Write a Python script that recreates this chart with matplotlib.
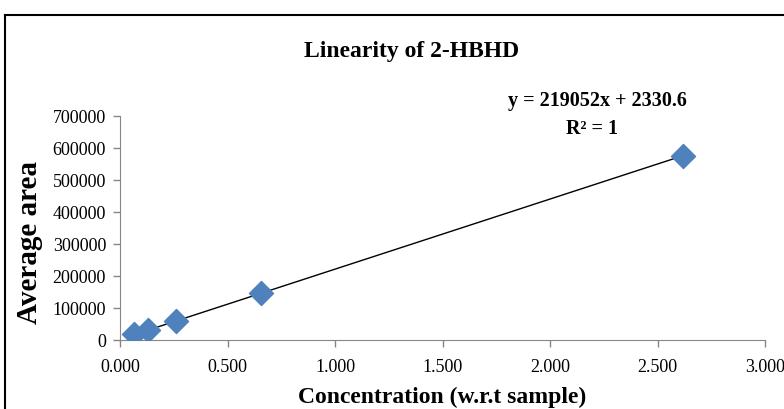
import numpy as np
import matplotlib.pyplot as plt
from matplotlib.lines import Line2D

# calibration data
concentration = [0.066, 0.131, 0.262, 0.655, 2.620]
avg_area = [17500, 31200, 59500, 146800, 576200]

# trendline reported on the chart
slope = 219052
intercept = 2330.6
r_squared = 1

x_ticks = [0.0, 0.5, 1.0, 1.5, 2.0, 2.5, 3.0]
y_ticks = [0, 100000, 200000, 300000, 400000, 500000, 600000, 700000]

plt.rcParams['font.family'] = ['Liberation Serif', 'DejaVu Serif']

fig = plt.figure(figsize=(7.84, 4.10), dpi=100)
ax = fig.add_axes([120/784, 1 - 341/410, 645/784, 224/410])

ax.scatter(concentration, avg_area, marker='D', s=150, color='#4F81BD',
           edgecolors='#4F81BD', zorder=3)
xf = np.array([min(concentration), max(concentration)])
ax.plot(xf, slope*xf + intercept, color='black', lw=1, zorder=2)

ax.set_xlim(0, 3)
ax.set_ylim(0, 700000)
ax.set_xticks(x_ticks)
ax.set_xticklabels(["%.3f" % t for t in x_ticks])
ax.set_yticks(y_ticks)
ax.set_yticklabels([str(t) for t in y_ticks])
ax.tick_params(labelsize=13, direction='out', length=5, color='#868686', width=1)
ax.tick_params(axis='x', pad=8)
ax.tick_params(axis='y', pad=5)
for s in ['top', 'right']:
    ax.spines[s].set_visible(False)
for s in ['left', 'bottom']:
    ax.spines[s].set_color('#868686')

ax.set_xlabel("Concentration (w.r.t sample)", fontsize=17, fontweight='bold', labelpad=8)
ax.set_ylabel("Average area", fontsize=21, fontweight='bold', va='center')
ax.yaxis.set_label_coords(-0.141, 0.44)

fig.text(412/784, 1 - 52/410, "Linearity of 2-HBHD", ha='center', va='center',
         fontsize=17, fontweight='bold')
fig.text(597/784, 1 - 101/410, "y = %dx + %.1f" % (slope, intercept),
         ha='center', va='center', fontsize=14.5, fontweight='bold')
fig.text(592/784, 1 - 129/410, "R² = %d" % r_squared,
         ha='center', va='center', fontsize=14.5, fontweight='bold')

# outer chart frame
fig.add_artist(Line2D([5/784, 5/784], [0, 1 - 16/410], transform=fig.transFigure,
                      color='black', lw=1.5))
fig.add_artist(Line2D([5/784, 1], [1 - 16/410, 1 - 16/410], transform=fig.transFigure,
                      color='black', lw=1.5))

fig.savefig("out.png", dpi=100)
